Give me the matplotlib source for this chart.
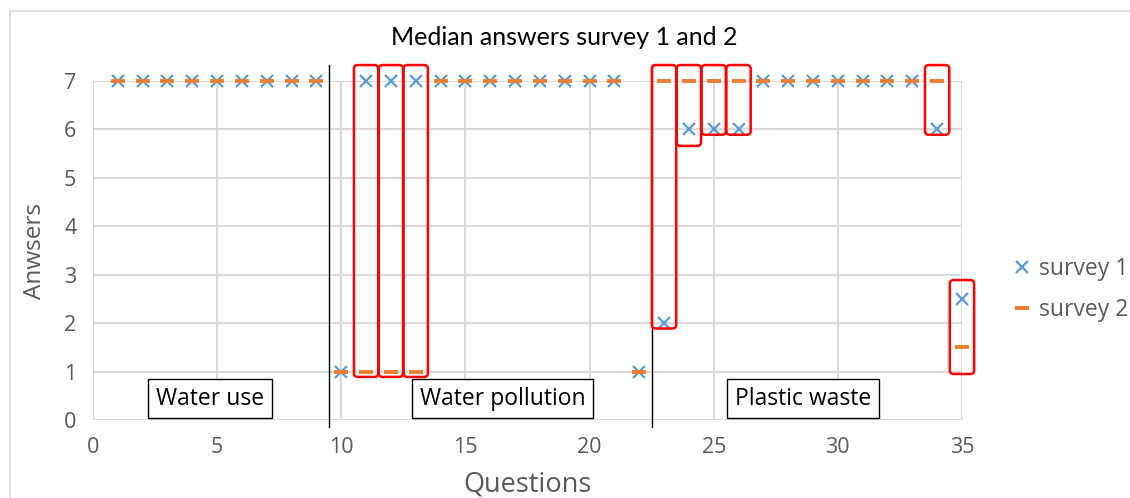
import matplotlib.pyplot as plt
from matplotlib.patches import FancyBboxPatch, Rectangle

# Median answers per question
questions = list(range(1, 36))
survey1 = [7, 7, 7, 7, 7, 7, 7, 7, 7,
           1, 7, 7, 7, 7, 7, 7, 7, 7, 7, 7, 7, 1,
           2, 6, 6, 6, 7, 7, 7, 7, 7, 7, 7, 6, 2.5]
survey2 = [7, 7, 7, 7, 7, 7, 7, 7, 7,
           1, 1, 1, 1, 7, 7, 7, 7, 7, 7, 7, 7, 1,
           7, 7, 7, 7, 7, 7, 7, 7, 7, 7, 7, 7, 1.5]

# Section split points and labels
splits = [9.5, 22.5]
sections = ['Water use', 'Water pollution', 'Plastic waste']
section_x = [4.7, 16.5, 28.6]

blue = '#5B9BD5'
orange = '#ED7D31'
grey = '#595959'

fig = plt.figure(figsize=(11.3, 4.98), dpi=100)
ax = fig.add_axes([0.0823, 0.1566, 0.7690, 0.6807])

# outer chart frame
fig.patches.append(Rectangle((10 / 1130, -0.1), 1.2, (498 - 11) / 498 + 0.1,
                             transform=fig.transFigure, fill=False,
                             edgecolor='#D9D9D9', lw=1.2))

ax.plot(questions, survey1, linestyle='none', marker='x', markersize=8.5,
        markeredgewidth=1.6, color=blue, label='survey 1', zorder=3, clip_on=False)
ax.plot(questions, survey2, linestyle='none', marker='_', markersize=10,
        markeredgewidth=2.8, color=orange, label='survey 2', zorder=4, clip_on=False)

ax.set_xlim(0, 35)
ax.set_ylim(0, 7)
ax.set_xticks(range(0, 36, 5))
ax.set_yticks(range(0, 8))
ax.grid(True, color='#D9D9D9', lw=1.5)
ax.set_axisbelow(True)
for s in ax.spines.values():
    s.set_visible(False)
ax.tick_params(length=0, labelsize=15.5, colors=grey, pad=12)
for lab in ax.get_xticklabels() + ax.get_yticklabels():
    lab.set_fontfamily('Open Sans')

ax.set_xlabel('Questions', fontsize=19.5, color=grey, family='Open Sans', labelpad=9)
ax.set_ylabel('Anwsers', fontsize=17.5, color=grey, family='Open Sans', labelpad=12)
ax.set_title('Median answers survey 1 and 2', fontsize=18, family='Lato',
             pad=26, x=0.542)

# section separators
for sx in splits:
    ax.plot([sx, sx], [-0.15, 7.33], color='black', lw=1, clip_on=False, zorder=5)

for name, cx in zip(sections, section_x):
    ax.text(cx, 0.44, name, ha='center', va='center', fontsize=16.5,
            family='Open Sans', color='black', zorder=6,
            bbox=dict(boxstyle='square,pad=0.34', fc='white', ec='black', lw=1))

# highlight questions where the medians differ
pad_low = {24: 0.34, 35: 0.55}
pad_high = {35: 0.39}
for q, a, b in zip(questions, survey1, survey2):
    if a == b:
        continue
    lo = min(a, b) - pad_low.get(q, 0.11)
    hi = max(a, b) + pad_high.get(q, 0.33)
    box = FancyBboxPatch((q - 0.49, lo), 0.98, hi - lo,
                         boxstyle='round,pad=0,rounding_size=0.16',
                         mutation_aspect=0.5, fill=False, edgecolor='red',
                         lw=1.8, clip_on=False, zorder=7)
    ax.add_patch(box)

leg = ax.legend(loc='center left', bbox_to_anchor=(1.036, 0.385), frameon=False,
                prop={'family': 'Open Sans', 'size': 16.5}, handlelength=0.7,
                handletextpad=0.4, labelspacing=0.75)
for t in leg.get_texts():
    t.set_color(grey)

fig.savefig('out.png', dpi=100)
